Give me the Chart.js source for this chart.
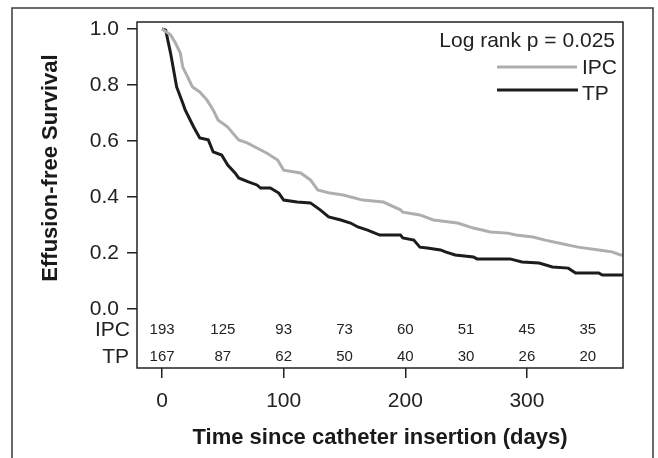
<!DOCTYPE html>
<html>
<head>
  <title>Effusion-free Survival</title>
  <script src="https://cdn.jsdelivr.net/npm/chart.js"></script>
  <style>
    body { margin: 0; padding: 0; background: #fff; }
    #km { display: block; }
  </style>
</head>
<body>
  <canvas id="km" width="658" height="458"></canvas>
  <script>
    // Kaplan-Meier curves (days, survival)
    const ipcDays = [0, 7, 11, 15, 17, 21, 25, 31, 37, 42, 46, 54, 58, 63, 70, 78, 86, 95, 100, 114, 122, 128, 138, 149, 165, 182, 196, 198, 212, 223, 243, 256, 270, 284, 291, 305, 315, 326, 342, 359, 370, 377, 379];
    const ipcSurv = [1.0, 0.979, 0.95, 0.914, 0.864, 0.829, 0.793, 0.775, 0.746, 0.711, 0.675, 0.65, 0.629, 0.604, 0.593, 0.575, 0.557, 0.532, 0.496, 0.486, 0.461, 0.425, 0.414, 0.407, 0.389, 0.382, 0.354, 0.346, 0.336, 0.318, 0.307, 0.289, 0.275, 0.271, 0.264, 0.257, 0.246, 0.236, 0.221, 0.211, 0.204, 0.193, 0.193];
    const tpDays = [0, 3, 7, 12, 17, 19, 26, 31, 38, 42, 49, 54, 60, 63, 71, 78, 81, 89, 96, 100, 111, 122, 130, 137, 147, 155, 161, 169, 179, 196, 198, 207, 212, 218, 229, 233, 241, 256, 259, 286, 296, 310, 321, 334, 340, 359, 362, 379];
    const tpSurv = [1.0, 0.996, 0.914, 0.793, 0.736, 0.711, 0.65, 0.611, 0.604, 0.561, 0.55, 0.514, 0.486, 0.468, 0.454, 0.443, 0.432, 0.432, 0.414, 0.389, 0.382, 0.379, 0.354, 0.329, 0.318, 0.307, 0.293, 0.282, 0.264, 0.264, 0.254, 0.246, 0.221, 0.218, 0.211, 0.204, 0.193, 0.186, 0.179, 0.179, 0.168, 0.164, 0.15, 0.146, 0.129, 0.129, 0.121, 0.121];

    // numbers at risk
    const riskDays = [0, 50, 100, 150, 200, 250, 300, 350];
    const ipcRisk = [193, 125, 93, 73, 60, 51, 45, 35];
    const tpRisk = [167, 87, 62, 50, 40, 30, 26, 20];

    const xTicks = [0, 100, 200, 300];
    const yTicks = [0, 0.2, 0.4, 0.6, 0.8, 1.0];

    const FONT = '"Liberation Sans", Arial, Helvetica, sans-serif';
    const IPC_COLOR = '#aeaeae';
    const TP_COLOR = '#1c1c1c';

    const toPoints = (xs, ys) => xs.map((x, i) => ({ x: x, y: ys[i] }));

    const decorations = {
      id: 'decorations',
      afterDraw(chart) {
        const ctx = chart.ctx;
        const a = chart.chartArea;
        const xs = chart.scales.x, ys = chart.scales.y;
        ctx.save();

        // outer frame
        ctx.strokeStyle = '#3a3a3a';
        ctx.lineWidth = 1.5;
        ctx.strokeRect(12, 8, 641, 470);

        // plot box
        ctx.strokeStyle = '#222';
        ctx.lineWidth = 1.5;
        ctx.strokeRect(a.left, a.top, a.right - a.left, a.bottom - a.top);

        // numbers at risk
        ctx.fillStyle = '#222';
        ctx.textBaseline = 'middle';
        ctx.textAlign = 'center';
        ctx.font = '15px ' + FONT;
        const ipcY = ys.getPixelForValue(-0.075);
        const tpY = ys.getPixelForValue(-0.171);
        riskDays.forEach((d, i) => {
          const px = xs.getPixelForValue(d);
          ctx.fillText(String(ipcRisk[i]), px, ipcY);
          ctx.fillText(String(tpRisk[i]), px, tpY);
        });
        ctx.textAlign = 'right';
        ctx.font = '21px ' + FONT;
        ctx.fillText('IPC', a.left - 7, ipcY);
        ctx.fillText('TP', a.left - 8, tpY);

        // legend
        ctx.fillText('Log rank p = 0.025', a.right - 8, 41);
        ctx.textAlign = 'left';
        ctx.fillText('IPC', 582, 68);
        ctx.fillText('TP', 582, 94);
        ctx.lineWidth = 3;
        ctx.strokeStyle = IPC_COLOR;
        ctx.beginPath(); ctx.moveTo(497, 67); ctx.lineTo(577, 67); ctx.stroke();
        ctx.strokeStyle = TP_COLOR;
        ctx.beginPath(); ctx.moveTo(497, 90); ctx.lineTo(578, 90); ctx.stroke();

        // axis titles
        ctx.fillStyle = '#1a1a1a';
        ctx.font = 'bold 22px ' + FONT;
        ctx.textAlign = 'center';
        ctx.fillText('Time since catheter insertion (days)', (a.left + a.right) / 2, 438);
        ctx.translate(51, 168);
        ctx.rotate(-Math.PI / 2);
        ctx.fillText('Effusion-free Survival', 0, 0);
        ctx.restore();
      }
    };

    new Chart(document.getElementById('km').getContext('2d'), {
      type: 'line',
      data: {
        datasets: [
          {
            label: 'IPC',
            data: toPoints(ipcDays, ipcSurv),
            borderColor: IPC_COLOR,
            borderWidth: 3,
            pointRadius: 0,
            tension: 0,
            fill: false
          },
          {
            label: 'TP',
            data: toPoints(tpDays, tpSurv),
            borderColor: TP_COLOR,
            borderWidth: 3,
            pointRadius: 0,
            tension: 0,
            fill: false
          }
        ]
      },
      options: {
        responsive: false,
        animation: false,
        layout: { padding: { left: 0, top: 22, right: 35, bottom: 0 } },
        plugins: {
          legend: { display: false },
          tooltip: { enabled: false }
        },
        scales: {
          x: {
            type: 'linear',
            min: -20.6,
            max: 379,
            afterBuildTicks: s => { s.ticks = xTicks.map(v => ({ value: v })); },
            afterFit: s => { s.height = 90; },
            grid: { drawOnChartArea: false, tickLength: 10, color: '#222', lineWidth: 1.5 },
            border: { display: false },
            ticks: { color: '#222', padding: 11, maxRotation: 0, font: { family: FONT, size: 21 } }
          },
          y: {
            type: 'linear',
            min: -0.2107,
            max: 1.025,
            afterBuildTicks: s => { s.ticks = yTicks.map(v => ({ value: v })); },
            afterFit: s => { s.width = 137; },
            grid: { drawOnChartArea: false, tickLength: 10, color: '#222', lineWidth: 1.5 },
            border: { display: false },
            ticks: { color: '#222', padding: 8, font: { family: FONT, size: 21 }, callback: v => v.toFixed(1) }
          }
        }
      },
      plugins: [decorations]
    });
  </script>
</body>
</html>
